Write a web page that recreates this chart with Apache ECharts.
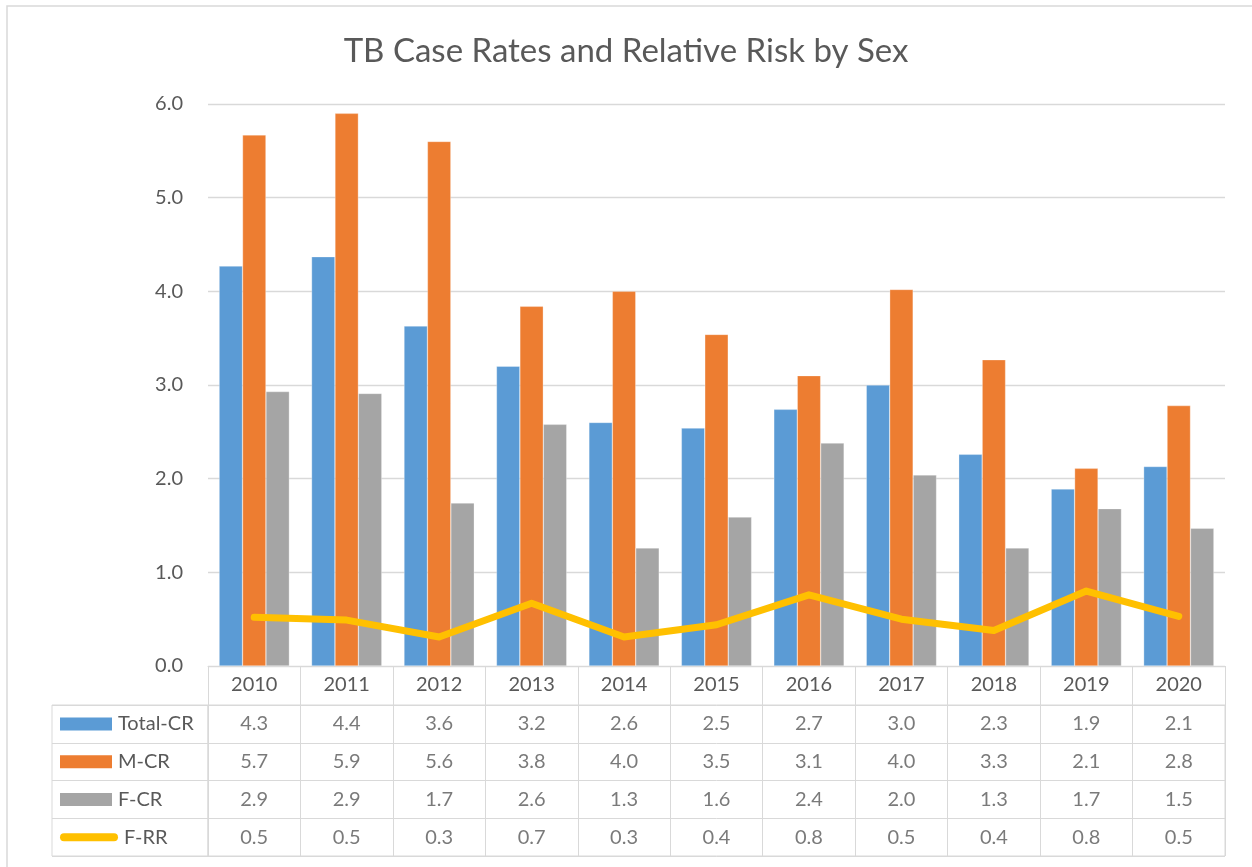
<!DOCTYPE html>
<html><head><meta charset="utf-8">
<script src="https://cdn.jsdelivr.net/npm/echarts@6/dist/echarts.min.js"></script>
<style>html,body{margin:0;padding:0;background:#fff}#c{width:1252px;height:867px}</style>
</head><body><div id="c"></div>
<script>
const years = ['2010','2011','2012','2013','2014','2015','2016','2017','2018','2019','2020'];
const seriesNames = ['Total-CR','M-CR','F-CR','F-RR'];
const totalCR  = [4.27,4.37,3.63,3.20,2.60,2.54,2.74,3.00,2.26,1.89,2.13];
const maleCR   = [5.67,5.90,5.60,3.84,4.00,3.54,3.10,4.02,3.27,2.11,2.78];
const femaleCR = [2.93,2.91,1.74,2.58,1.26,1.59,2.38,2.04,1.26,1.68,1.47];
const femaleRR = [0.52,0.49,0.31,0.67,0.31,0.44,0.76,0.50,0.38,0.80,0.53];
const colors = ['#5b9bd5','#ed7d31','#a5a5a5','#ffc000'];

const FONT = 'Lato';
const FS = 20;
const TXT = '#595959';
const GRIDC = '#d9d9d9';
const allSeries = [totalCR, maleCR, femaleCR, femaleRR];

const tableData = [];
allSeries.forEach((arr, r) => arr.forEach((v, i) => tableData.push([i, r, v])));

const rich = { n: { fontSize: FS, color: TXT, fontFamily: FONT, padding: [0,0,0,6] } };
[0,1,2].forEach(i => rich['k' + i] = { width: 52, height: 13, backgroundColor: colors[i] });
rich.k3 = { width: 58, height: 8, borderRadius: 4, backgroundColor: colors[3] };

const chart = echarts.init(document.getElementById('c'));
chart.setOption({
  backgroundColor: '#fff',
  animation: false,
  title: {
    text: 'TB Case Rates and Relative Risk by Sex',
    left: 'center', top: 30,
    textStyle: { fontSize: 33, fontWeight: 'normal', color: TXT, fontFamily: FONT }
  },
  graphic: [{
    type: 'rect', silent: true,
    shape: { x: 7, y: 6, width: 1300, height: 900 },
    style: { fill: 'none', stroke: GRIDC, lineWidth: 1.5 }
  }],
  grid: [
    { left: 208, right: 27, top: 104, bottom: 201 },
    { left: 208, right: 27, top: 705, height: 151, show: true, borderColor: GRIDC, borderWidth: 1 },
    { left: 52, width: 156, top: 705, height: 151, show: true, borderColor: GRIDC, borderWidth: 1 }
  ],
  xAxis: [
    { type: 'category', data: years, gridIndex: 0,
      axisLine: { lineStyle: { color: GRIDC } },
      axisTick: { show: true, length: 39, interval: 0, lineStyle: { color: GRIDC } },
      axisLabel: { margin: 19, verticalAlign: 'middle', fontSize: FS, color: TXT, fontFamily: FONT, interval: 0 } },
    { type: 'category', data: years, gridIndex: 1,
      axisLine: { show: false }, axisTick: { show: false }, axisLabel: { show: false },
      splitLine: { show: true, interval: 0, lineStyle: { color: GRIDC } } },
    { type: 'value', gridIndex: 2, show: false }
  ],
  yAxis: [
    { type: 'value', min: 0, max: 6, interval: 1, gridIndex: 0,
      axisLine: { show: false }, axisTick: { show: false },
      axisLabel: { margin: 25, fontSize: FS, color: TXT, fontFamily: FONT, formatter: v => v.toFixed(1) },
      splitLine: { lineStyle: { color: GRIDC, width: 1.3 } } },
    { type: 'category', data: seriesNames, inverse: true, gridIndex: 1,
      axisLine: { show: false }, axisTick: { show: false }, axisLabel: { show: false },
      splitLine: { show: true, interval: 0, lineStyle: { color: GRIDC } } },
    { type: 'category', data: seriesNames, inverse: true, gridIndex: 2,
      axisLine: { show: false }, axisTick: { show: false },
      splitLine: { show: true, interval: 0, lineStyle: { color: GRIDC } },
      axisLabel: { inside: true, margin: 8, interval: 0,
        formatter: (v, idx) => '{k' + idx + '| }{n|' + v + '}', rich: rich } }
  ],
  series: [
    { name: 'Total-CR', type: 'bar', data: totalCR, barGap: '0%', barCategoryGap: '24%',
      itemStyle: { color: colors[0], borderColor: 'rgba(255,255,255,0.6)', borderWidth: 0.5 } },
    { name: 'M-CR', type: 'bar', data: maleCR,
      itemStyle: { color: colors[1], borderColor: 'rgba(255,255,255,0.6)', borderWidth: 0.5 } },
    { name: 'F-CR', type: 'bar', data: femaleCR,
      itemStyle: { color: colors[2], borderColor: 'rgba(255,255,255,0.6)', borderWidth: 0.5 } },
    { name: 'F-RR', type: 'line', data: femaleRR, symbol: 'none', z: 5,
      lineStyle: { width: 7, color: colors[3], cap: 'round', join: 'round' } },
    { type: 'scatter', xAxisIndex: 1, yAxisIndex: 1, data: tableData, symbolSize: 1, silent: true,
      itemStyle: { color: 'rgba(0,0,0,0)' },
      label: { show: true, position: 'inside', fontSize: FS, color: TXT, fontFamily: FONT,
        formatter: p => p.value[2].toFixed(1) } }
  ]
});
</script>
</body></html>
